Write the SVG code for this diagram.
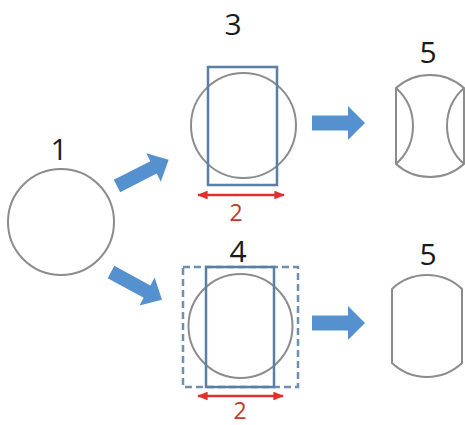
<svg xmlns="http://www.w3.org/2000/svg" width="465" height="425" viewBox="0 0 465 425">
  <defs>
    <style>
      .num { font-family: "Open Sans", "Liberation Sans", sans-serif; font-size: 30px; fill: #1a1a1a; text-anchor: middle; }
      .dim { font-family: "Open Sans", "Liberation Sans", sans-serif; font-size: 23px; fill: #c0392b; text-anchor: middle; }
      .disc { fill: none; stroke: #8c8c8c; stroke-width: 2; }
      .frame { fill: none; stroke: #5b7fa3; stroke-width: 2.5; }
      .frame-dash { fill: none; stroke: #6d8fb0; stroke-width: 2.5; stroke-dasharray: 7 4; }
      .flow { fill: #5591cf; }
      .measure { stroke: #e0302f; stroke-width: 2.5; marker-start: url(#tipL); marker-end: url(#tipR); }
    </style>
    <!-- block arrow shapes pointing right, origin at the tail centre -->
    <polygon id="block" points="0,-7.5 36,-7.5 36,-17 53,0 36,17 36,7.5 0,7.5"/>
    <polygon id="blockLong" points="0,-7 41,-7 41,-16 58,0 41,16 41,7 0,7"/>
    <marker id="tipR" viewBox="0 0 12 10" refX="11" refY="5" markerWidth="4.5" markerHeight="3.5" orient="auto" markerUnits="strokeWidth">
      <path d="M0,0 L12,5 L0,10 z" fill="#e0302f"/>
    </marker>
    <marker id="tipL" viewBox="0 0 12 10" refX="1" refY="5" markerWidth="4.5" markerHeight="3.5" orient="auto" markerUnits="strokeWidth">
      <path d="M12,0 L0,5 L12,10 z" fill="#e0302f"/>
    </marker>
  </defs>
  <rect width="465" height="425" fill="#ffffff"/>

  <!-- initial disc -->
  <g id="node1">
    <circle class="disc" cx="61" cy="222" r="53"/>
    <text class="num" x="59" y="160">1</text>
  </g>

  <!-- disc cut by a narrow frame -->
  <g id="node3">
    <circle class="disc" cx="243.5" cy="125.5" r="52.5"/>
    <rect class="frame" x="208" y="67" width="69" height="118"/>
    <text class="num" x="233" y="35">3</text>
    <line class="measure" x1="198" y1="195" x2="284" y2="195"/>
    <text class="dim" x="236" y="221">2</text>
  </g>

  <!-- disc inside a wide dashed frame with the narrow frame -->
  <g id="node4">
    <rect class="frame-dash" x="183" y="267" width="115" height="120"/>
    <circle class="disc" cx="240.5" cy="326" r="52"/>
    <rect class="frame" x="206" y="267" width="68" height="120"/>
    <text class="num" x="238" y="262">4</text>
    <line class="measure" x1="198" y1="396" x2="283" y2="396"/>
    <text class="dim" x="240" y="419">2</text>
  </g>

  <!-- trimmed result with sides folded inward -->
  <g id="node5a">
    <path class="disc" d="M396,88 A51,51 0 0 1 464,88 L464,164 A51,51 0 0 1 396,164 Z"/>
    <path class="disc" d="M396,88 A51,51 0 0 1 396,164"/>
    <path class="disc" d="M464,88 A51,51 0 0 0 464,164"/>
    <text class="num" x="428" y="63">5</text>
  </g>

  <!-- trimmed result with flat sides -->
  <g id="node5b">
    <path class="disc" d="M392,289 A51,51 0 0 1 462,289 L462,363 A51,51 0 0 1 392,363 Z"/>
    <text class="num" x="428" y="265">5</text>
  </g>

  <g id="connectors">
    <use href="#blockLong" class="flow" transform="translate(117,186) rotate(-27)"/>
    <use href="#blockLong" class="flow" transform="translate(111,272) rotate(28.5)"/>
    <use href="#block" class="flow" transform="translate(312,123)"/>
    <use href="#block" class="flow" transform="translate(312,323)"/>
  </g>
</svg>
